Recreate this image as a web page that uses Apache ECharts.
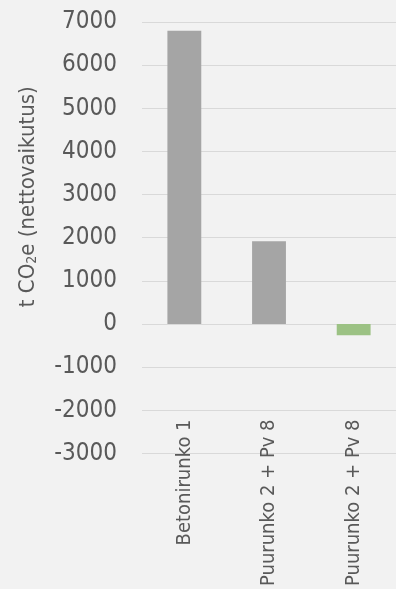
<!DOCTYPE html>
<html><head><meta charset="utf-8">
<script src="https://cdn.jsdelivr.net/npm/echarts@6/dist/echarts.min.js"></script>
<style>html,body{margin:0;padding:0;background:#f2f2f2}#c{width:396px;height:589px}</style>
</head><body><div id="c"></div>
<script>
const categories = ['Betonirunko 1', 'Puurunko 2 + Pv 8', 'Puurunko 2 + Pv 8'];
const values = [6800, 1920, -260];
const barColors = ['#a5a5a5', '#a5a5a5', '#9cc284'];
const yTicks = [-3000, -2000, -1000, 0, 1000, 2000, 3000, 4000, 5000, 6000, 7000];

const FONT = '"DejaVu Sans Condensed", Roboto, sans-serif';
const chart = echarts.init(document.getElementById('c'), null, {renderer: 'canvas'});
chart.setOption({
  backgroundColor: '#f2f2f2',
  animation: false,
  grid: {left: 142, right: -2, top: 22, bottom: 135, containLabel: false},
  xAxis: {
    type: 'category',
    data: categories,
    position: 'bottom',
    axisLine: {show: false, onZero: false},
    axisTick: {show: false},
    axisLabel: {
      rotate: 90, margin: -34, interval: 0,
      color: '#595959', fontSize: 20, fontFamily: FONT
    }
  },
  yAxis: {
    type: 'value',
    min: yTicks[0], max: yTicks[yTicks.length - 1], interval: 1000,
    axisLine: {show: false},
    axisTick: {show: false},
    splitLine: {lineStyle: {color: '#d9d9d9', width: 1}},
    axisLabel: {color: '#595959', fontSize: 24, fontFamily: FONT, margin: 25, formatter: v => String(v)},
    name: '{a|t CO}{s|2}{a|e (nettovaikutus)}',
    nameLocation: 'middle',
    nameGap: 103,
    nameRotate: 90,
    nameTextStyle: {
      padding: [0, 0, 0, 82],
      rich: {
        a: {color: '#595959', fontSize: 22, fontFamily: FONT},
        s: {color: '#595959', fontSize: 14, fontFamily: FONT, verticalAlign: 'bottom', padding: [8, 0, 0, 0]}
      }
    }
  },
  series: [{
    type: 'bar',
    barWidth: '40%',
    data: values.map((v, i) => ({value: v, itemStyle: {color: barColors[i]}}))
  }]
});
</script></body></html>
